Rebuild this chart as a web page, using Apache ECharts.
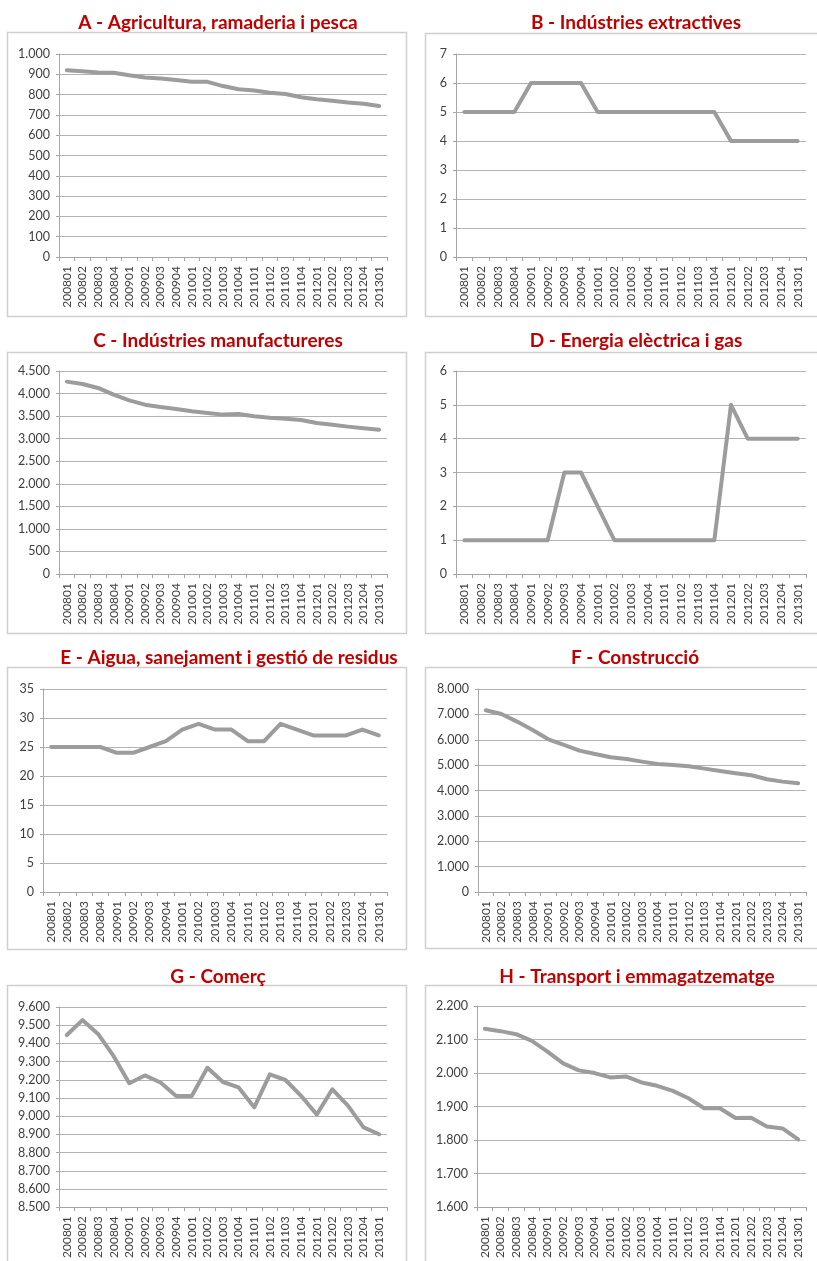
<!DOCTYPE html>
<html>
<head>
<meta charset="utf-8">
<script src="https://cdn.jsdelivr.net/npm/echarts@6/dist/echarts.min.js"></script>
<style>
html,body{margin:0;padding:0;background:#fff;}
#chart{width:817px;height:1261px;}
</style>
</head>
<body>
<div id="chart"></div>
<script>
// ---- Data ----
const categories = ['200801','200802','200803','200804','200901','200902','200903','200904','201001','201002','201003','201004','201101','201102','201103','201104','201201','201202','201203','201204','201301'];

const titles = [
  'A - Agricultura, ramaderia i pesca',
  'B - Indústries extractives',
  'C - Indústries manufactureres',
  'D - Energia elèctrica i gas',
  'E - Aigua, sanejament i gestió de residus',
  'F - Construcció',
  'G - Comerç',
  'H - Transport i emmagatzematge'
];

const valuesA = [920, 915, 909, 908, 895, 884, 879, 872, 863, 863, 842, 826, 820, 809, 803, 787, 777, 770, 761, 755, 744];
const valuesB = [5, 5, 5, 5, 6, 6, 6, 6, 5, 5, 5, 5, 5, 5, 5, 5, 4, 4, 4, 4, 4];
const valuesC = [4264, 4213, 4124, 3976, 3850, 3754, 3702, 3658, 3606, 3570, 3533, 3547, 3496, 3466, 3444, 3414, 3348, 3311, 3267, 3230, 3200];
const valuesD = [1, 1, 1, 1, 1, 1, 3, 3, 2, 1, 1, 1, 1, 1, 1, 1, 5, 4, 4, 4, 4];
const valuesE = [25, 25, 25, 25, 24, 24, 25, 26, 28, 29, 28, 28, 26, 26, 29, 28, 27, 27, 27, 28, 27];
const valuesF = [7160, 7017, 6715, 6386, 6018, 5795, 5572, 5440, 5309, 5243, 5138, 5046, 5007, 4954, 4862, 4770, 4678, 4599, 4442, 4350, 4284];
const valuesG = [9446, 9528, 9452, 9330, 9181, 9224, 9185, 9111, 9111, 9266, 9188, 9158, 9049, 9230, 9199, 9112, 9009, 9148, 9058, 8939, 8901];
const valuesH = [2132, 2125, 2116, 2096, 2064, 2029, 2008, 2000, 1987, 1990, 1972, 1962, 1947, 1925, 1895, 1895, 1866, 1867, 1841, 1835, 1802];

// y-axis ranges: [min, max, interval]
const rangeA = [0, 1000, 100];
const rangeB = [0, 7, 1];
const rangeC = [0, 4500, 500];
const rangeD = [0, 6, 1];
const rangeE = [0, 35, 5];
const rangeF = [0, 8000, 1000];
const rangeG = [8500, 9600, 100];
const rangeH = [1600, 2200, 100];

const allValues = [valuesA, valuesB, valuesC, valuesD, valuesE, valuesF, valuesG, valuesH];
const allRanges = [rangeA, rangeB, rangeC, rangeD, rangeE, rangeF, rangeG, rangeH];

// ---- Layout ----
const grids = [
  {left: 59,  top: 54,   width: 328, height: 203},
  {left: 456, top: 54,   width: 350, height: 203},
  {left: 59,  top: 371,  width: 328, height: 203},
  {left: 456, top: 371,  width: 350, height: 203},
  {left: 43,  top: 689,  width: 344, height: 203},
  {left: 478, top: 689,  width: 328, height: 203},
  {left: 59,  top: 1007, width: 328, height: 203},
  {left: 477, top: 1006, width: 329, height: 203}
];
const titlePos = [
  [218, 23], [636, 23], [218, 341], [636, 341],
  [229, 658], [635, 658], [218, 977], [637, 977]
];
const boxes = [
  [7, 32, 399, 284], [425, 33, 400, 283],
  [7, 352, 399, 281], [425, 352, 400, 281],
  [7, 667, 399, 282], [425, 667, 400, 281],
  [7, 985, 399, 290], [425, 985, 400, 290]
];

const fmt = v => String(v).replace(/\B(?=(\d{3})+(?!\d))/g, '.');
const FONT = 'Lato';
const TITLE_SIZE = 19;

const option = {
  animation: false,
  backgroundColor: '#ffffff',
  graphic: boxes.map(b => ({
    type: 'rect', silent: true, z: -1,
    shape: {x: b[0] + 0.5, y: b[1] + 0.5, width: b[2], height: b[3]},
    style: {fill: '#ffffff', stroke: '#cfcfcf', lineWidth: 1.5}
  })),
  title: titles.map((t, i) => ({
    text: t,
    left: titlePos[i][0],
    top: titlePos[i][1] - TITLE_SIZE / 2 - 1,
    textAlign: 'center',
    padding: 0,
    textStyle: {fontFamily: FONT, fontWeight: 'bold', fontSize: TITLE_SIZE, color: '#c00000', lineHeight: TITLE_SIZE + 2}
  })),
  grid: grids.map(g => Object.assign({containLabel: false}, g)),
  xAxis: grids.map((g, i) => ({
    type: 'category',
    gridIndex: i,
    data: categories,
    boundaryGap: true,
    axisLine: {show: true, lineStyle: {color: '#a6a6a6', width: 1}},
    axisTick: {show: true, alignWithLabel: false, length: 4, lineStyle: {color: '#a6a6a6'}},
    axisLabel: {rotate: 90, interval: 0, margin: 9, fontFamily: FONT, fontSize: 12, color: '#404040'},
    splitLine: {show: false}
  })),
  yAxis: allRanges.map((r, i) => ({
    type: 'value',
    gridIndex: i,
    min: r[0], max: r[1], interval: r[2],
    axisLine: {show: true, lineStyle: {color: '#a6a6a6', width: 1}},
    axisTick: {show: true, length: 3, lineStyle: {color: '#a6a6a6'}},
    axisLabel: {formatter: fmt, margin: 9, fontFamily: FONT, fontSize: 12.5, color: '#404040'},
    splitLine: {show: true, lineStyle: {color: '#b3b3b3', width: 1}}
  })),
  series: allValues.map((vals, i) => ({
    type: 'line',
    xAxisIndex: i,
    yAxisIndex: i,
    data: vals,
    symbol: 'none',
    lineStyle: {color: '#9c9c9c', width: 4, cap: 'round', join: 'round'},
    z: 3
  }))
};

const chart = echarts.init(document.getElementById('chart'), null, {renderer: 'canvas'});
chart.setOption(option);
</script>
</body>
</html>
